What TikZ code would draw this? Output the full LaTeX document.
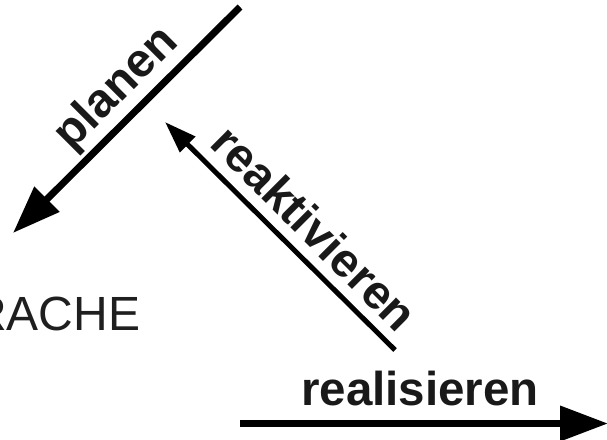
\documentclass[tikz,border=0pt]{standalone}
\usepackage{fontspec}
\setmainfont{Liberation Sans}
\usetikzlibrary{arrows.meta}
\tikzset{
  bigarrow/.style={line width=7pt, line cap=butt, -{Triangle[length=48pt,width=34pt]}},
  smallarrow/.style={line width=5pt, line cap=butt, -{Triangle[length=32pt,width=21pt]}},
  verb/.style={font=\fontsize{47.5}{52}\selectfont\bfseries, inner sep=0pt, text=black!90},
  word/.style={font=\fontsize{48}{52}\selectfont, inner sep=0pt, text=black!88}
}
\begin{document}
\begin{tikzpicture}[x=1pt,y=-1pt]
  \useasboundingbox (0,0) rectangle (607,439);
  \clip (0,0) rectangle (607,439);

  % end points of the three arrows
  \coordinate (planStart) at (240,7);
  \coordinate (planEnd)   at (13,233);
  \coordinate (reakStart) at (395,350);
  \coordinate (reakEnd)   at (165,122);
  \coordinate (realStart) at (240,423.5);
  \coordinate (realEnd)   at (608,423.5);

  \draw[bigarrow]   (planStart) -- (planEnd);
  \draw[smallarrow] (reakStart) -- (reakEnd);
  \draw[bigarrow]   (realStart) -- (realEnd);

  % labels
  \node[verb, rotate=45]  (planen)       at (117,89)  {planen};
  \node[verb, rotate=-45] (reaktivieren) at (315,228) {reaktivieren};
  \node[verb, anchor=base] (realisieren) at (420,405) {realisieren};
  \node[word, anchor=base west] (sprache) at (-28,330) {RACHE};
\end{tikzpicture}
\end{document}
